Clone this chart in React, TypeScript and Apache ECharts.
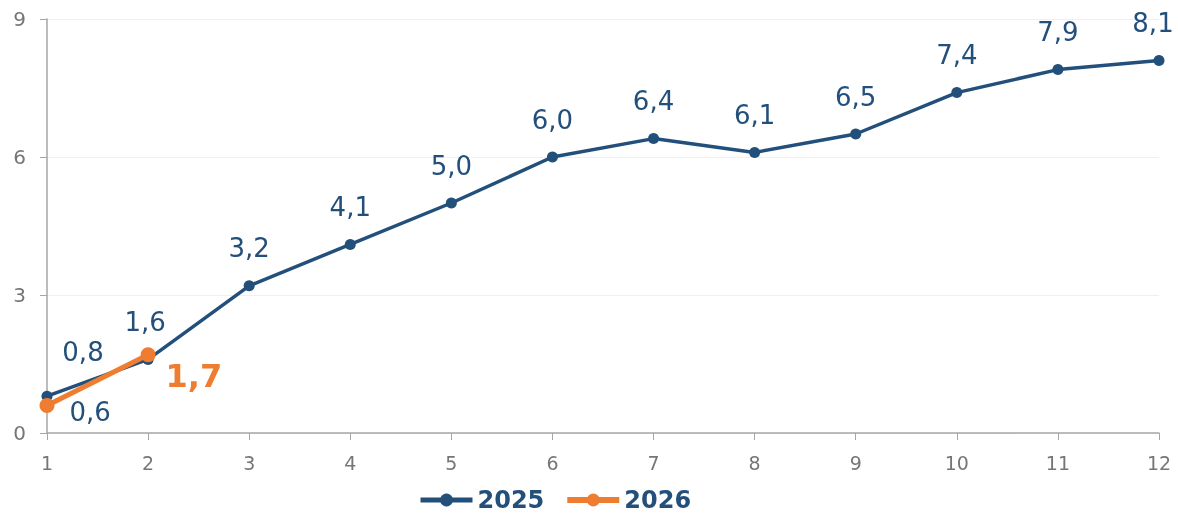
import React, { useEffect, useRef } from "react";
import * as echarts from "echarts";

const months = ["1", "2", "3", "4", "5", "6", "7", "8", "9", "10", "11", "12"];
const values2025 = [0.8, 1.6, 3.2, 4.1, 5.0, 6.0, 6.4, 6.1, 6.5, 7.4, 7.9, 8.1];
const values2026 = [0.6, 1.7];
const yTicks = [0, 3, 6, 9];

const BLUE = "#234f7b";
const ORANGE = "#ee7d31";
const FONT = "'DejaVu Sans', sans-serif";
const fmt = (v: number) => v.toFixed(1).replace(".", ",");

export default function App() {
  const ref = useRef<HTMLDivElement>(null);
  useEffect(() => {
    if (!ref.current) return;
    const chart = echarts.init(ref.current, undefined, { renderer: "svg" });
    const last = values2025.length - 1;
    const d2025 = values2025.map((v, i) => {
      if (i === 0)
        return { value: v, label: { position: "top", distance: 19, offset: [36, -7] } };
      if (i === 1)
        return { value: v, label: { position: "top", distance: 19, offset: [-3, 0] } };
      if (i === last)
        return { value: v, label: { position: "top", distance: 19, offset: [-6, 0] } };
      return { value: v };
    });
    const d2026 = values2026.map((v, i) => {
      if (i === 0)
        return { value: v, label: { position: "right", distance: 15, offset: [0, 7], fontSize: 26, fontWeight: "normal", color: BLUE } };
      return { value: v, label: { position: "right", distance: 10, offset: [0, 21] } };
    });
    chart.setOption({
      animation: false,
      textStyle: { fontFamily: FONT },
      grid: { left: 47, right: 19, top: 19, bottom: 81, containLabel: false },
      legend: {
        bottom: -3,
        left: 413,
        itemWidth: 52,
        itemHeight: 16,
        itemGap: 20,
        textStyle: { fontSize: 24, fontWeight: "bold", color: BLUE, fontFamily: FONT },
        data: [
          { name: "2025", lineStyle: { width: 5 } },
          { name: "2026", lineStyle: { width: 6 } },
        ],
      },
      xAxis: {
        type: "category",
        data: months,
        boundaryGap: false,
        axisLine: { lineStyle: { color: "#a6a6a6", width: 1.5 } },
        axisTick: { alignWithLabel: true, length: 7, lineStyle: { color: "#a6a6a6" } },
        axisLabel: { color: "#767676", fontSize: 19, margin: 20 },
      },
      yAxis: {
        type: "value",
        min: yTicks[0],
        max: yTicks[yTicks.length - 1],
        interval: 3,
        axisLine: { show: true, lineStyle: { color: "#a6a6a6", width: 1.5 } },
        axisTick: { show: true, length: 7, lineStyle: { color: "#a6a6a6" } },
        axisLabel: { color: "#767676", fontSize: 20, margin: 21 },
        splitLine: { lineStyle: { color: "#f0f0f0" } },
      },
      series: [
        {
          name: "2025",
          type: "line",
          data: d2025,
          symbol: "circle",
          symbolSize: 11,
          lineStyle: { color: BLUE, width: 3.5 },
          itemStyle: { color: BLUE },
          label: {
            show: true,
            position: "top",
            distance: 19,
            color: BLUE,
            fontSize: 26,
            fontFamily: FONT,
            formatter: (p: any) => fmt(p.value),
          },
          z: 2,
        },
        {
          name: "2026",
          type: "line",
          data: d2026,
          symbol: "circle",
          symbolSize: 15,
          lineStyle: { color: ORANGE, width: 5 },
          itemStyle: { color: ORANGE },
          label: {
            show: true,
            color: ORANGE,
            fontSize: 32,
            fontWeight: "bold",
            fontFamily: FONT,
            formatter: (p: any) => fmt(p.value),
          },
          z: 3,
        },
      ],
    });
    return () => chart.dispose();
  }, []);
  return (
    <div
      ref={ref}
      style={{ position: "fixed", left: 0, top: 0, width: 1178, height: 514 }}
    />
  );
}
